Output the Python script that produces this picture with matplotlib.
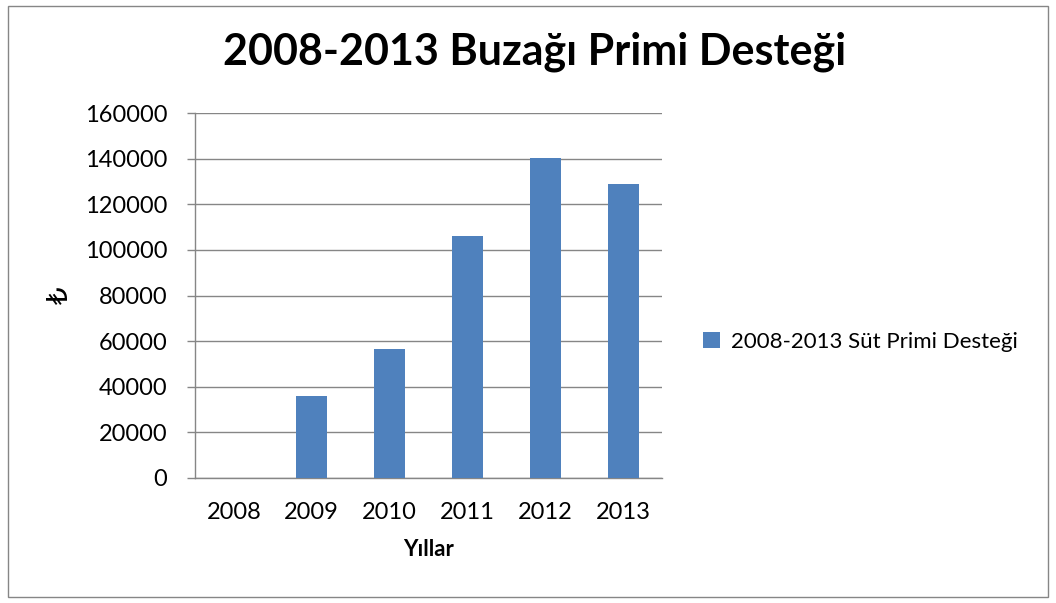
import matplotlib.pyplot as plt
from matplotlib.patches import Rectangle

plt.rcParams['font.family'] = ['Lato', 'DejaVu Sans']

years = ['2008', '2009', '2010', '2011', '2012', '2013']
values = [0, 36000, 56500, 106000, 140200, 129000]
series_name = '2008-2013 Süt Primi Desteği'

fig = plt.figure(figsize=(10.56, 6.03), dpi=100)
ax = fig.add_axes([195/1056, 1-478/603, 467/1056, 365/603])

x = range(len(years))
ax.bar(x, values, width=0.4, color='#4F81BD', label=series_name, zorder=3)

ax.set_xlim(-0.5, len(years) - 0.5)
ax.set_ylim(0, 160000)
ax.set_yticks(range(0, 160001, 20000))
ax.set_xticks(list(x))
ax.set_xticklabels(years)
ax.tick_params(axis='both', labelsize=17, colors='#000000')
ax.tick_params(axis='y', length=6, color='#868686', width=1, pad=14)
ax.tick_params(axis='x', length=0, pad=17)
ax.grid(axis='y', color='#868686', linewidth=1, zorder=0)

for s in ['top', 'right']:
    ax.spines[s].set_visible(False)
for s in ['left', 'bottom']:
    ax.spines[s].set_color('#868686')
    ax.spines[s].set_linewidth(1)

ax.set_xlabel('Yıllar', fontsize=16, fontweight='bold', labelpad=12)
fig.text(60/1056, 1-295/603, '₺', fontsize=20, family=['DejaVu Sans'],
         rotation=90, ha='center', va='center')
fig.suptitle('2008-2013 Buzağı Primi Desteği', fontsize=31, fontweight='bold',
             x=535/1056, y=1-52/603, va='center')

fig.legend(loc='center left', bbox_to_anchor=(703/1056, 1-342/603),
           frameon=False, fontsize=16, handlelength=0.75, handleheight=0.75,
           handletextpad=0.5, borderpad=0, borderaxespad=0)

fig.patches.append(Rectangle((8/1056, 6/603), 1040/1056, 591/603,
                             transform=fig.transFigure, fill=False,
                             edgecolor='#868686', linewidth=1))

fig.savefig('out.png', dpi=100)
